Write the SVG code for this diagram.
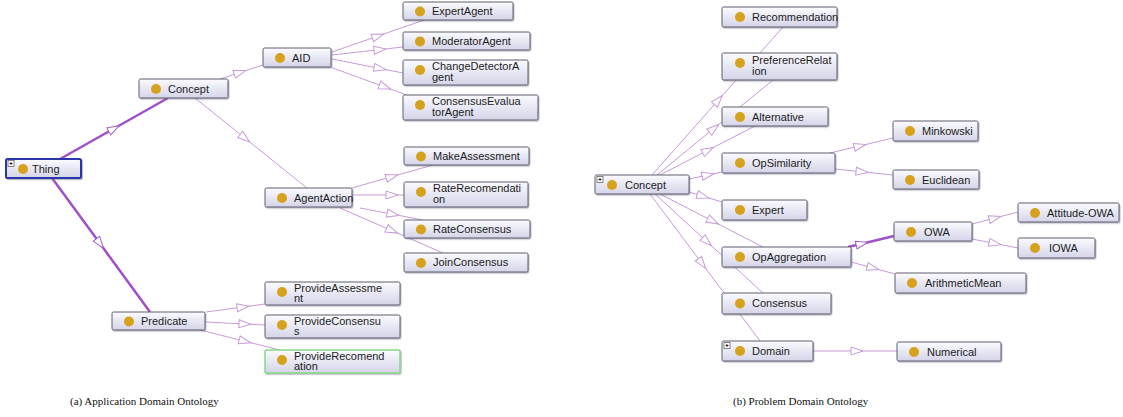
<svg xmlns="http://www.w3.org/2000/svg" width="1123" height="417" viewBox="0 0 1123 417">
  <defs>
    <linearGradient id="boxFill" x1="0" y1="0" x2="0" y2="1">
      <stop offset="0" stop-color="#fbfbff"/>
      <stop offset="1" stop-color="#d4d4e8"/>
    </linearGradient>
    <filter id="shadow" x="-5%" y="-20%" width="115%" height="160%">
      <feDropShadow dx="1" dy="1.2" stdDeviation="0.7" flood-color="#6a6a80" flood-opacity="0.45"/>
    </filter>
    <marker id="tri" markerUnits="userSpaceOnUse" markerWidth="14" markerHeight="10" refX="6" refY="4" orient="auto" viewBox="-1 -1 14 10">
      <path d="M0,0 L12,4 L0,8 z" fill="#fff" stroke="#c89ad8" stroke-width="1"/>
    </marker>
    <marker id="triBold" markerUnits="userSpaceOnUse" markerWidth="14" markerHeight="10" refX="6" refY="4" orient="auto" viewBox="-1 -1 14 10">
      <path d="M0,0 L12,4 L0,8 z" fill="#fff" stroke="#a060c8" stroke-width="1"/>
    </marker>
  </defs>
  <style>
    .box{fill:url(#boxFill);stroke:#5c5c6e;stroke-width:1;filter:url(#shadow)}
    .sel{stroke:#2a34a8;stroke-width:2}
    .new{stroke:#86d886;stroke-width:1.5}
    .dot{fill:#d6a21e}
    .t{font-family:"Liberation Sans",Arial,sans-serif;font-size:11px;fill:#1c1c1c}
    .plus{fill:#fff;stroke:#666;stroke-width:0.8}
    .pl{stroke:#222;stroke-width:0.9}
    .e{fill:none;stroke:#c89ad8;stroke-width:1;marker-mid:url(#tri)}
    .eb{fill:none;stroke:#a050c8;stroke-width:2.5;marker-mid:url(#triBold)}
    .cap{font-family:"Liberation Serif","Times New Roman",serif;font-size:11px;fill:#111}
  </style>
  <rect width="1123" height="417" fill="#fff"/>

  <!-- connectors: parent -> child, open arrowhead near the middle -->
  <g id="connectors">
    <!-- application domain ontology -->
    <polyline class="eb" points="60,159 114,128.5 168,98"/>
    <polyline class="eb" points="52,178 100,243.6 150,312"/>
    <polyline class="e" points="220,79 240,72.4 263,65"/>
    <polyline class="e" points="195,98 245,138.2 307,188"/>
    <polyline class="e" points="332,52 378,36 427,19"/>
    <polyline class="e" points="332,55 380,49.6 403,47"/>
    <polyline class="e" points="332,59 380,68.5 403,73"/>
    <polyline class="e" points="330,67 385,87 412,97"/>
    <polyline class="e" points="352,188 392,176.6 433,165"/>
    <polyline class="e" points="352,195 392,195 404,195"/>
    <polyline class="e" points="360,208 393,214.3 423,220"/>
    <polyline class="e" points="340,208 392,230.7 443,253"/>
    <polyline class="e" points="206,312 243,307 265,304"/>
    <polyline class="e" points="206,322 245,324 265,325"/>
    <polyline class="e" points="200,330 245,341.3 280,350"/>
    <!-- problem domain ontology -->
    <polyline class="e" points="652,175 718.4,100 783,27"/>
    <polyline class="e" points="657,175 714,128.3 773,80"/>
    <polyline class="e" points="660,175 708,150.2 755,126"/>
    <polyline class="e" points="689,179 708,175 722,172"/>
    <polyline class="e" points="689,192 703,196.2 722,202"/>
    <polyline class="e" points="660,194 713,221.3 763,247"/>
    <polyline class="e" points="655,194 707,241.7 763,293"/>
    <polyline class="e" points="650,194 702,263.5 760,341"/>
    <polyline class="e" points="830,153 860,145.9 893,138"/>
    <polyline class="e" points="835,169 862,171.8 893,175"/>
    <polyline class="eb" points="848,247 862,243.7 894,236"/>
    <polyline class="e" points="851,262 873,268 895,274"/>
    <polyline class="e" points="972,224 995,218 1018,212"/>
    <polyline class="e" points="972,239 995,243.5 1018,248"/>
    <polyline class="e" points="813,351 857,351 897,351"/>
  </g>

  <!-- application domain ontology nodes -->
  <g id="thing">
    <rect class="box sel" x="6" y="159" width="75" height="19" rx="1.5"/>
    <rect class="plus" x="8" y="160.5" width="6" height="6"/>
    <path class="pl" d="M9.5,163.5h3M11,162v3"/>
    <circle class="dot" cx="23" cy="169" r="5"/>
    <text class="t" x="32" y="172.5">Thing</text>
  </g>
  <g id="concept-a">
    <rect class="box" x="139" y="79" width="89" height="19" rx="1.5"/>
    <circle class="dot" cx="156" cy="89" r="5"/>
    <text class="t" x="168" y="92.5">Concept</text>
  </g>
  <g id="aid">
    <rect class="box" x="263" y="48" width="68" height="19" rx="1.5"/>
    <circle class="dot" cx="280" cy="58" r="5"/>
    <text class="t" x="292" y="61.5">AID</text>
  </g>
  <g id="expert-agent">
    <rect class="box" x="403" y="2" width="110" height="18" rx="1.5"/>
    <circle class="dot" cx="420" cy="11.5" r="5"/>
    <text class="t" x="432" y="14.5">ExpertAgent</text>
  </g>
  <g id="moderator-agent">
    <rect class="box" x="403" y="32" width="127" height="18" rx="1.5"/>
    <circle class="dot" cx="420" cy="41.5" r="5"/>
    <text class="t" x="432" y="44.5">ModeratorAgent</text>
  </g>
  <g id="change-detector-agent">
    <rect class="box" x="403" y="60" width="125" height="25" rx="1.5"/>
    <circle class="dot" cx="420" cy="70" r="5"/>
    <text class="t" x="432" y="70">ChangeDetectorA</text>
    <text class="t" x="432" y="80.5">gent</text>
  </g>
  <g id="consensus-evaluator-agent">
    <rect class="box" x="403" y="95" width="135" height="25" rx="1.5"/>
    <circle class="dot" cx="420" cy="105" r="5"/>
    <text class="t" x="432" y="105">ConsensusEvalua</text>
    <text class="t" x="432" y="115.5">torAgent</text>
  </g>
  <g id="agent-action">
    <rect class="box" x="265" y="188" width="87" height="19" rx="1.5"/>
    <circle class="dot" cx="282" cy="198" r="5"/>
    <text class="t" x="294" y="201.5">AgentAction</text>
  </g>
  <g id="make-assessment">
    <rect class="box" x="404" y="147" width="125" height="18" rx="1.5"/>
    <circle class="dot" cx="421" cy="156.5" r="5"/>
    <text class="t" x="433" y="159.5">MakeAssessment</text>
  </g>
  <g id="rate-recomendation">
    <rect class="box" x="404" y="182" width="124" height="25" rx="1.5"/>
    <circle class="dot" cx="421" cy="192" r="5"/>
    <text class="t" x="433" y="192">RateRecomendati</text>
    <text class="t" x="433" y="202.5">on</text>
  </g>
  <g id="rate-consensus">
    <rect class="box" x="404" y="220" width="126" height="18" rx="1.5"/>
    <circle class="dot" cx="421" cy="229.5" r="5"/>
    <text class="t" x="433" y="232.5">RateConsensus</text>
  </g>
  <g id="join-consensus">
    <rect class="box" x="404" y="253" width="124" height="19" rx="1.5"/>
    <circle class="dot" cx="421" cy="263" r="5"/>
    <text class="t" x="433" y="266">JoinConsensus</text>
  </g>
  <g id="predicate">
    <rect class="box" x="112" y="312" width="93" height="18" rx="1.5"/>
    <circle class="dot" cx="129" cy="321.5" r="5"/>
    <text class="t" x="141" y="324.5">Predicate</text>
  </g>
  <g id="provide-assessment">
    <rect class="box" x="265" y="282" width="135" height="23" rx="1.5"/>
    <circle class="dot" cx="282" cy="292" r="5"/>
    <text class="t" x="294" y="292">ProvideAssessme</text>
    <text class="t" x="294" y="302">nt</text>
  </g>
  <g id="provide-consensus">
    <rect class="box" x="265" y="315" width="135" height="23" rx="1.5"/>
    <circle class="dot" cx="282" cy="325" r="5"/>
    <text class="t" x="294" y="325">ProvideConsensu</text>
    <text class="t" x="294" y="335">s</text>
  </g>
  <g id="provide-recomendation">
    <rect class="box new" x="265" y="350" width="135" height="23" rx="1.5"/>
    <circle class="dot" cx="282" cy="360" r="5"/>
    <text class="t" x="294" y="360">ProvideRecomend</text>
    <text class="t" x="294" y="370">ation</text>
  </g>

  <!-- problem domain ontology nodes -->
  <g id="concept-b">
    <rect class="box" x="595" y="175" width="94" height="19" rx="1.5"/>
    <rect class="plus" x="597" y="176.5" width="6" height="6"/>
    <path class="pl" d="M598.5,179.5h3M600,178v3"/>
    <circle class="dot" cx="612" cy="185" r="5"/>
    <text class="t" x="625" y="188.5">Concept</text>
  </g>
  <g id="recommendation">
    <rect class="box" x="722" y="7" width="115" height="20" rx="1.5"/>
    <circle class="dot" cx="740" cy="17" r="5"/>
    <text class="t" x="752" y="20.5">Recommendation</text>
  </g>
  <g id="preference-relation">
    <rect class="box" x="722" y="53" width="115" height="27" rx="1.5"/>
    <circle class="dot" cx="740" cy="63" r="5"/>
    <text class="t" x="752" y="64">PreferenceRelat</text>
    <text class="t" x="752" y="75">ion</text>
  </g>
  <g id="alternative">
    <rect class="box" x="722" y="107" width="106" height="19" rx="1.5"/>
    <circle class="dot" cx="740" cy="117" r="5"/>
    <text class="t" x="752" y="120.5">Alternative</text>
  </g>
  <g id="op-similarity">
    <rect class="box" x="722" y="153" width="113" height="20" rx="1.5"/>
    <circle class="dot" cx="740" cy="163" r="5"/>
    <text class="t" x="752" y="166.5">OpSimilarity</text>
  </g>
  <g id="minkowski">
    <rect class="box" x="893" y="121" width="85" height="20" rx="1.5"/>
    <circle class="dot" cx="910" cy="131" r="5"/>
    <text class="t" x="922" y="134.5">Minkowski</text>
  </g>
  <g id="euclidean">
    <rect class="box" x="893" y="170" width="86" height="19" rx="1.5"/>
    <circle class="dot" cx="910" cy="180" r="5"/>
    <text class="t" x="922" y="183.5">Euclidean</text>
  </g>
  <g id="expert">
    <rect class="box" x="722" y="200" width="85" height="20" rx="1.5"/>
    <circle class="dot" cx="740" cy="210" r="5"/>
    <text class="t" x="752" y="213.5">Expert</text>
  </g>
  <g id="op-aggregation">
    <rect class="box" x="722" y="247" width="129" height="20" rx="1.5"/>
    <circle class="dot" cx="740" cy="257" r="5"/>
    <text class="t" x="752" y="260.5">OpAggregation</text>
  </g>
  <g id="owa">
    <rect class="box" x="894" y="222" width="78" height="19" rx="1.5"/>
    <circle class="dot" cx="911" cy="232" r="5"/>
    <text class="t" x="924" y="235.5">OWA</text>
  </g>
  <g id="attitude-owa">
    <rect class="box" x="1018" y="203" width="101" height="19" rx="1.5"/>
    <circle class="dot" cx="1035" cy="213" r="5"/>
    <text class="t" x="1047" y="216.5">Attitude-OWA</text>
  </g>
  <g id="iowa">
    <rect class="box" x="1018" y="238" width="77" height="20" rx="1.5"/>
    <circle class="dot" cx="1035" cy="248" r="5"/>
    <text class="t" x="1049" y="251.5">IOWA</text>
  </g>
  <g id="arithmetic-mean">
    <rect class="box" x="895" y="273" width="131" height="20" rx="1.5"/>
    <circle class="dot" cx="912" cy="283" r="5"/>
    <text class="t" x="925" y="286.5">ArithmeticMean</text>
  </g>
  <g id="consensus">
    <rect class="box" x="722" y="293" width="109" height="21" rx="1.5"/>
    <circle class="dot" cx="740" cy="303.5" r="5"/>
    <text class="t" x="752" y="306.5">Consensus</text>
  </g>
  <g id="domain">
    <rect class="box" x="722" y="341" width="91" height="20" rx="1.5"/>
    <rect class="plus" x="724" y="342.5" width="6" height="6"/>
    <path class="pl" d="M725.5,345.5h3M727,344v3"/>
    <circle class="dot" cx="740" cy="351" r="5"/>
    <text class="t" x="752" y="354.5">Domain</text>
  </g>
  <g id="numerical">
    <rect class="box" x="897" y="342" width="104" height="19" rx="1.5"/>
    <circle class="dot" cx="914" cy="352" r="5"/>
    <text class="t" x="927" y="355.5">Numerical</text>
  </g>

  <!-- sub-figure captions -->
  <text class="cap" x="70" y="405">(a) Application Domain Ontology</text>
  <text class="cap" x="733" y="405">(b) Problem Domain Ontology</text>
</svg>
